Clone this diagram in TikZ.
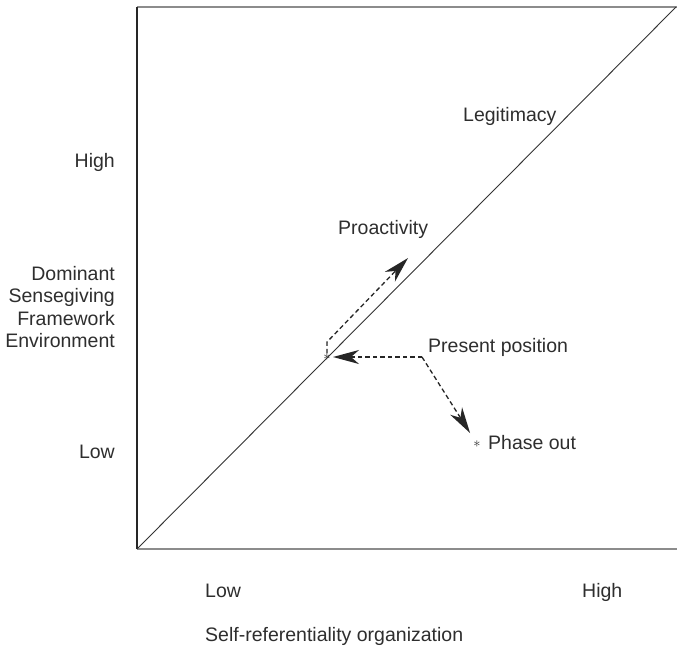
\documentclass[tikz,border=0pt]{standalone}
\usepackage{fontspec}
\setmainfont{Liberation Sans}
\usetikzlibrary{arrows.meta}
\begin{document}
\begin{tikzpicture}[x=1pt,y=-1pt,
  lbl/.style={inner sep=0pt, font=\fontsize{19.5}{22.5}\selectfont, text=black!82},
  starmark/.style={inner sep=0pt, font=\fontsize{14}{14}\selectfont, text=black!82},
  dasharrow/.style={draw=black!85, line width=1.3pt, dash pattern=on 4.5pt off 3pt,
    -{Stealth[length=26pt,width=14pt,inset=8pt]}},
]
\useasboundingbox (0,0) rectangle (677,651);
\fill[white] (0,0) rectangle (677,651);
% frame
\coordinate (tl) at (137,7);
\coordinate (bl) at (137,549);
\coordinate (tr) at (677,7);
\coordinate (br) at (677,549);
\coordinate (dtop) at (676,7);
\draw[black!45, line width=2pt] (tl) -- (tr);
\draw[black!45, line width=2pt] (bl) -- (br);
\draw[black!85, line width=1.5pt] (tl) -- (bl);
\draw[black!80, line width=0.9pt] (bl) -- (dtop);
% axis labels
\node[lbl, anchor=base east] (yhigh) at (115,167) {High};
\node[lbl, anchor=east, align=right] (ytitle) at (115,307) {Dominant\\Sensegiving\\Framework\\Environment};
\node[lbl, anchor=base east] (ylow) at (115,458) {Low};
\node[lbl, anchor=base west] (xlow) at (205,597) {Low};
\node[lbl, anchor=base west] (xhigh) at (582,597) {High};
\node[lbl, anchor=base west] (xtitle) at (205,641) {Self-referentiality organization};
% inner labels
\node[lbl, anchor=base west] (legit) at (463,121) {Legitimacy};
\node[lbl, anchor=base west] (proact) at (338,234) {Proactivity};
\node[lbl, anchor=base west] (present) at (428,352) {Present position};
\node[lbl, anchor=base west] (phase) at (488,449) {Phase out};
% markers
\node[starmark] (ps) at (327,357) {$\ast$};
\node[starmark] (phs) at (477,444) {$\ast$};
% connectors
\coordinate (ppc) at (422,357);
\coordinate (pbend) at (327,342);
\coordinate (ptip) at (408,258);
\draw[dasharrow, shorten >=6pt] (ppc) -- (ps.center);
\draw[dasharrow, shorten >=13pt] (ppc) -- (phs.center);
\draw[dasharrow] (ps.north) -- (pbend) -- (ptip);
\end{tikzpicture}
\end{document}
